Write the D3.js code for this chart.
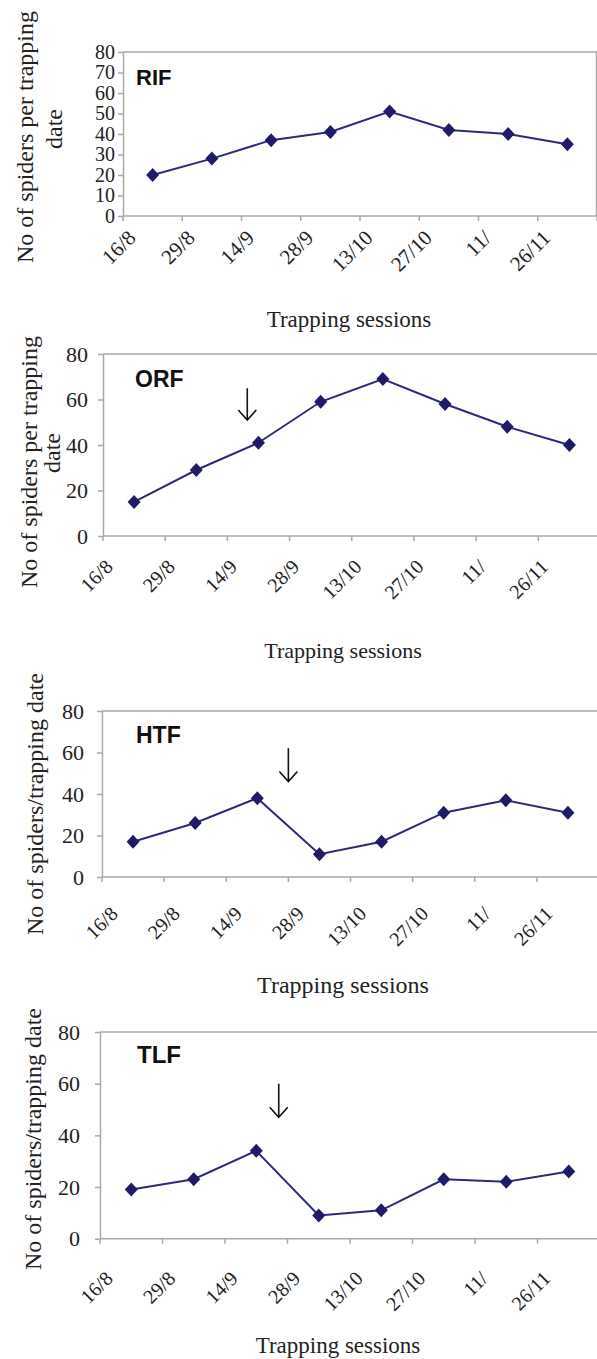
<!DOCTYPE html>
<html>
<head>
<meta charset="utf-8">
<script src="https://cdn.jsdelivr.net/npm/d3@7"></script>
<style>
  body { margin: 0; background: #fff; }
  svg { display: block; }
</style>
</head>
<body>
<div id="chart"></div>
<script>
// trapping dates (category labels)
const sessions = ["16/8", "29/8", "14/9", "28/9", "13/10", "27/10", "11/", "26/11"];

// spiders per trapping date, one array per site
const rifCounts = [20, 28, 37, 41, 51, 42, 40, 35];
const orfCounts = [15, 29, 41, 59, 69, 58, 48, 40];
const htfCounts = [17, 26, 38, 11, 17, 31, 37, 31];
const tlfCounts = [19, 23, 34, 9, 11, 23, 22, 26];

const rifTicks = [0, 10, 20, 30, 40, 50, 60, 70, 80];
const otherTicks = [0, 20, 40, 60, 80];

// arrow annotations: position in session units, top and bottom in spider counts
const arrowSession = [null, 2.32, 3.0, 2.86];
const arrowTop = [null, 65, 62, 60];
const arrowBottom = [null, 51, 46, 47];

const W = 597, H = 1359;
const serif = "Liberation Serif, Times New Roman, serif";
const sans = "Liberation Sans, Arial, sans-serif";
const lineColor = "#2d2a7c";
const markColor = "#1f1b68";
const frameColor = "#a9a9a9";

// layout of each panel (pixels)
const panels = [
  { name: "RIF", values: rifCounts, ticks: rifTicks,
    left: 123, right: 597, top: 52, bottom: 216, boxRight: 596.5,
    ylab: ["No of spiders per trapping", "date"], ylabX: [33, 62], ylabY: [137, 129],
    tickFs: 20, tickPad: 3, nameX: 136, nameY: 85, nameFs: 22,
    xlabOff: [14, 23], xlabFs: 21, titleX: 349, titleY: 327, titleFs: 23 },
  { name: "ORF", values: orfCounts, ticks: otherTicks,
    left: 103, right: 600.5, top: 354, bottom: 536, boxRight: 600,
    ylab: ["No of spiders per trapping", "date"], ylabX: [37, 60], ylabY: [462, 453],
    tickFs: 22, tickPad: 10, nameX: 135, nameY: 387, nameFs: 23,
    xlabOff: [11, 32], xlabFs: 20, titleX: 343, titleY: 658, titleFs: 22 },
  { name: "HTF", values: htfCounts, ticks: otherTicks,
    left: 102, right: 599, top: 711, bottom: 877, boxRight: 600,
    ylab: ["No of spiders/trapping date"], ylabX: [43], ylabY: [804],
    tickFs: 22, tickPad: 13, nameX: 136, nameY: 743, nameFs: 23,
    xlabOff: [17, 38], xlabFs: 20, titleX: 343, titleY: 993, titleFs: 24 },
  { name: "TLF", values: tlfCounts, ticks: otherTicks,
    left: 100, right: 600, top: 1032, bottom: 1238.7, boxRight: 600,
    ylab: ["No of spiders/trapping date"], ylabX: [41], ylabY: [1139],
    tickFs: 22, tickPad: 15, nameX: 137, nameY: 1063, nameFs: 24,
    xlabOff: [14, 41], xlabFs: 20, titleX: 338, titleY: 1353, titleFs: 23 }
];

const svg = d3.select("#chart").append("svg")
  .attr("width", W)
  .attr("height", H)
  .attr("viewBox", `0 0 ${W} ${H}`);

svg.append("rect").attr("width", W).attr("height", H).attr("fill", "#fff");

const diamond = "M0,-7L6.5,0L0,7L-6.5,0Z";

panels.forEach((p, i) => {
  const g = svg.append("g").attr("font-family", serif);

  const x = d3.scaleBand()
    .domain(sessions)
    .range([p.left, p.right])
    .padding(0);

  const y = d3.scaleLinear()
    .domain([0, 80])
    .range([p.bottom, p.top]);

  // plot frame (top and right)
  g.append("path")
    .attr("d", `M${p.left},${p.top}H${p.boxRight}V${p.bottom}`)
    .attr("fill", "none")
    .attr("stroke", frameColor)
    .attr("stroke-width", 1.5);

  // y axis
  const yAxis = g.append("g")
    .attr("transform", `translate(${p.left},0)`)
    .call(d3.axisLeft(y).tickValues(p.ticks).tickSize(5).tickSizeOuter(0).tickPadding(p.tickPad))
    .attr("font-family", serif)
    .attr("font-size", p.tickFs);
  yAxis.select(".domain").attr("stroke", frameColor).attr("stroke-width", 1.5);
  yAxis.selectAll(".tick line").attr("stroke", frameColor).attr("stroke-width", 1.5);
  yAxis.selectAll(".tick text").attr("fill", "#222");

  // x axis: ticks at category boundaries
  g.append("line")
    .attr("x1", p.left).attr("x2", p.boxRight)
    .attr("y1", y(0)).attr("y2", y(0))
    .attr("stroke", frameColor).attr("stroke-width", 1.5);

  const edges = sessions.map(s => x(s)).concat([x.range()[1]]);
  g.selectAll(".xtick")
    .data(edges)
    .join("line")
    .attr("x1", d => d).attr("x2", d => d)
    .attr("y1", y(0)).attr("y2", y(0) + 5)
    .attr("stroke", frameColor).attr("stroke-width", 1.5);

  g.selectAll(".xlab")
    .data(sessions)
    .join("text")
    .attr("transform", d => `translate(${x(d) + p.xlabOff[0]},${y(0) + p.xlabOff[1]}) rotate(-45)`)
    .attr("text-anchor", "end")
    .attr("fill", "#222")
    .attr("font-size", p.xlabFs)
    .text(d => d);

  // series line
  const line = d3.line()
    .x((d, j) => x(sessions[j]) + x.bandwidth() / 2)
    .y(d => y(d));

  g.append("path")
    .datum(p.values)
    .attr("d", line)
    .attr("fill", "none")
    .attr("stroke", lineColor)
    .attr("stroke-width", 2);

  g.selectAll(".mark")
    .data(p.values)
    .join("path")
    .attr("d", diamond)
    .attr("transform", (d, j) => `translate(${x(sessions[j]) + x.bandwidth() / 2},${y(d)})`)
    .attr("fill", markColor);

  // site name
  g.append("text")
    .attr("x", p.nameX).attr("y", p.nameY)
    .attr("fill", "#111")
    .attr("font-family", sans)
    .attr("font-weight", "bold")
    .attr("font-size", p.nameFs)
    .text(p.name);

  // arrow annotation
  if (arrowSession[i] !== null) {
    const ax = x.range()[0] + arrowSession[i] * x.bandwidth();
    const y0 = y(arrowTop[i]), y1 = y(arrowBottom[i]);
    g.append("path")
      .attr("d", `M${ax},${y0}V${y1}M${ax - 9},${y1 - 10}L${ax},${y1}L${ax + 9},${y1 - 10}`)
      .attr("fill", "none")
      .attr("stroke", "#111")
      .attr("stroke-width", 1.6);
  }

  // y axis title
  p.ylab.forEach((t, k) => {
    g.append("text")
      .attr("transform", `translate(${p.ylabX[k]},${p.ylabY[k]}) rotate(-90)`)
      .attr("text-anchor", "middle")
      .attr("fill", "#222")
      .attr("font-size", 24)
      .text(t);
  });

  // x axis title
  g.append("text")
    .attr("x", p.titleX).attr("y", p.titleY)
    .attr("text-anchor", "middle")
    .attr("fill", "#222")
    .attr("font-size", p.titleFs)
    .text("Trapping sessions");
});
</script>
</body>
</html>
